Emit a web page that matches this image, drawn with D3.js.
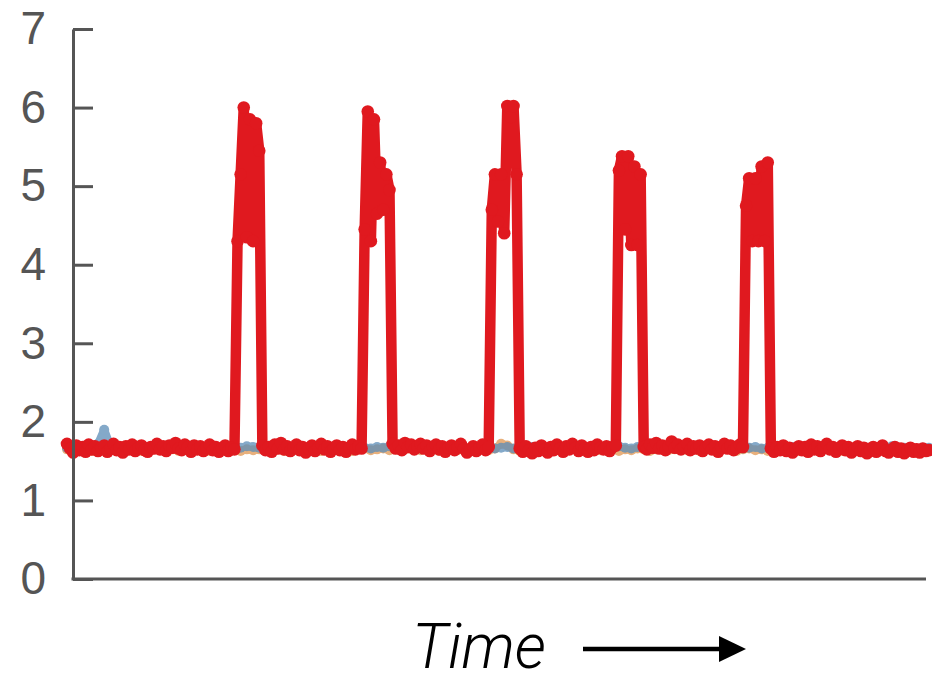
<!DOCTYPE html>
<html>
<head>
<meta charset="utf-8">
<script src="https://cdn.jsdelivr.net/npm/d3@7"></script>
<style>
  html, body { margin: 0; padding: 0; background: #fff; }
  svg { display: block; }
</style>
</head>
<body>
<svg id="chart" width="932" height="678"></svg>
<script>
// Signal level sampled at a fixed interval; index = sample number.
const redValues = [
  // quiet
  1.72,1.66,1.61,1.70,1.64,1.68,1.62,1.71,1.65,1.69,
  1.63,1.67,1.70,1.62,1.66,1.72,1.64,1.68,1.61,1.69,
  1.65,1.71,1.63,1.67,1.70,1.64,1.62,1.68,1.66,1.72,
  1.65,1.69,1.63,1.70,1.67,1.73,1.66,1.64,1.71,1.68,
  1.62,1.70,1.65,1.69,1.63,1.67,1.71,1.64,1.68,1.62,
  1.66,1.70,1.63,1.67,1.65,
  // burst 1
  4.30,5.15,6.00,4.35,5.85,4.30,5.80,5.45,
  // quiet
  1.70,1.64,1.68,1.62,1.71,1.66,1.73,1.65,1.69,1.63,
  1.67,1.71,1.64,1.68,1.61,1.66,1.70,1.63,1.67,1.72,
  1.65,1.69,1.62,1.66,1.70,1.64,1.68,1.62,1.67,1.71,
  1.65,1.69,1.66,
  // burst 2
  4.45,5.95,4.30,5.85,4.65,5.30,4.70,5.15,4.95,
  // quiet
  1.72,1.66,1.70,1.64,1.73,1.68,1.71,1.65,1.69,1.72,
  1.66,1.70,1.63,1.68,1.71,1.65,1.69,1.62,1.67,1.70,
  1.64,1.68,1.72,1.66,1.61,1.65,1.69,1.63,1.67,1.71,
  1.64,1.68,
  // burst 3
  4.70,5.15,4.55,5.15,4.40,6.02,5.88,6.02,5.15,
  // quiet
  1.66,1.62,1.69,1.64,1.60,1.67,1.63,1.70,1.65,1.61,
  1.68,1.64,1.71,1.66,1.62,1.69,1.65,1.72,1.67,1.63,
  1.70,1.66,1.62,1.68,1.64,1.71,1.67,1.65,1.69,1.63,
  1.68,1.70,
  // burst 4
  5.20,5.38,4.45,5.38,4.25,5.25,4.25,5.15,
  // quiet
  1.68,1.65,1.71,1.67,1.73,1.66,1.70,1.64,1.69,1.75,
  1.67,1.71,1.65,1.68,1.72,1.64,1.69,1.66,1.70,1.63,
  1.67,1.71,1.65,1.69,1.62,1.68,1.72,1.66,1.70,1.64,
  1.67,1.71,1.68,
  // burst 5
  4.75,5.10,4.30,5.10,4.30,5.25,4.30,5.30,
  // quiet
  1.66,1.62,1.68,1.64,1.70,1.63,1.67,1.61,1.66,1.69,
  1.64,1.68,1.62,1.71,1.65,1.69,1.63,1.67,1.72,1.65,
  1.68,1.62,1.66,1.70,1.64,1.68,1.61,1.65,1.69,1.63,
  1.67,1.60,1.64,1.68,1.62,1.66,1.70,1.63,1.61,1.65,
  1.68,1.62,1.66,1.60,1.64,1.67,1.62,1.65,1.61,1.66,
  1.63,1.64
];

// Two reference channels, logged every second sample.
const blueValues = [
  1.67,1.68,1.66,1.67,1.69,1.72,1.90,1.69,1.67,1.66,
  1.68,1.67,1.66,1.68,1.67,1.69,1.66,1.67,1.68,1.66,
  1.67,1.69,1.67,1.66,1.68,1.67,1.66,1.68,1.67,1.69,
  1.68,1.67,1.66,1.68,1.67,1.69,1.66,1.67,1.68,1.66,
  1.67,1.68,1.66,1.67,1.69,1.67,1.66,1.68,1.67,1.66,
  1.68,1.67,1.69,1.66,1.67,1.68,1.67,1.66,1.68,1.67,
  1.69,1.67,1.66,1.68,1.67,1.66,1.68,1.69,1.67,1.66,
  1.67,1.68,1.66,1.67,1.69,1.68,1.66,1.67,1.68,1.67,
  1.66,1.68,1.67,1.69,1.66,1.67,1.68,1.66,1.67,1.69,
  1.67,1.66,1.68,1.67,1.66,1.68,1.69,1.67,1.66,1.68,
  1.67,1.69,1.66,1.67,1.68,1.66,1.67,1.69,1.68,1.66,
  1.67,1.68,1.66,1.67,1.69,1.67,1.66,1.68,1.67,1.66,
  1.68,1.67,1.66,1.69,1.67,1.68,1.66,1.67,1.68,1.67,
  1.66,1.68,1.67,1.69,1.66,1.67,1.68,1.66,1.67,1.67
];
const orangeValues = [
  1.65,1.64,1.66,1.65,1.63,1.65,1.66,1.64,1.65,1.66,
  1.64,1.65,1.63,1.66,1.65,1.64,1.66,1.65,1.63,1.65,
  1.66,1.64,1.65,1.63,1.66,1.65,1.64,1.66,1.63,1.65,
  1.64,1.65,1.66,1.64,1.65,1.63,1.65,1.66,1.64,1.65,
  1.66,1.63,1.65,1.64,1.66,1.65,1.63,1.65,1.66,1.64,
  1.65,1.66,1.64,1.65,1.63,1.66,1.65,1.64,1.66,1.65,
  1.63,1.65,1.66,1.64,1.65,1.66,1.63,1.65,1.64,1.66,
  1.72,1.70,1.65,1.63,1.66,1.64,1.65,1.66,1.63,1.65,
  1.64,1.66,1.65,1.63,1.65,1.66,1.64,1.65,1.66,1.63,
  1.65,1.64,1.66,1.65,1.63,1.65,1.66,1.64,1.65,1.66,
  1.64,1.65,1.63,1.66,1.65,1.64,1.66,1.65,1.63,1.65,
  1.66,1.64,1.65,1.63,1.66,1.65,1.64,1.66,1.63,1.65,
  1.64,1.65,1.66,1.64,1.65,1.63,1.65,1.66,1.64,1.65,
  1.66,1.63,1.65,1.64,1.66,1.65,1.63,1.65,1.66,1.64
];
const refStep = 2;               // reference channels: one reading per 2 samples
const yTicks = [0, 1, 2, 3, 4, 5, 6, 7];
const xLabel = "Time";

const svg = d3.select("#chart");

const x = d3.scaleLinear().domain([0, redValues.length - 1]).range([67, 929]);
const y = d3.scaleLinear().domain([0, 7]).range([579, 29]);
const axisLeft = 73, axisRight = 926;

const toPoints = (vals, step) => vals.map((v, i) => ({ t: i * step, v }));
const series = [
  { name: "orange", pts: toPoints(orangeValues, refStep), color: "#e8b07c", opacity: 1,    width: 8,    r: 5 },
  { name: "blue",   pts: toPoints(blueValues, refStep),   color: "#5b8db8", opacity: 0.75, width: 8,    r: 5 },
  { name: "red",    pts: toPoints(redValues, 1),          color: "#e0191f", opacity: 1,    width: 10.5, r: 6.3 }
];

const line = d3.line().x(d => x(d.t)).y(d => y(d.v));

const plot = svg.append("g");
series.forEach(s => {
  const g = plot.append("g").attr("opacity", s.opacity);
  g.append("path")
    .datum(s.pts)
    .attr("d", line)
    .attr("fill", "none")
    .attr("stroke", s.color)
    .attr("stroke-width", s.width)
    .attr("stroke-linejoin", "round")
    .attr("stroke-linecap", "round");
  g.selectAll("circle")
    .data(s.pts)
    .join("circle")
    .attr("cx", d => x(d.t))
    .attr("cy", d => y(d.v))
    .attr("r", s.r)
    .attr("fill", s.color);
});

// Y axis: inward ticks, labels on the left
const yAxis = d3.axisLeft(y)
  .tickValues(yTicks)
  .tickFormat(d3.format("d"))
  .tickSize(-20)
  .tickSizeOuter(0)
  .tickPadding(27);
const gy = svg.append("g").attr("transform", `translate(${axisLeft},0)`).call(yAxis);
gy.select(".domain").attr("stroke", "#555").attr("stroke-width", 3);
gy.selectAll(".tick line").attr("stroke", "#555").attr("stroke-width", 3);
gy.selectAll(".tick text")
  .attr("fill", "#555")
  .style("font-family", "'Liberation Sans', Arial, sans-serif")
  .style("font-size", "46px");

// X axis baseline
svg.append("line")
  .attr("x1", axisLeft - 1.5).attr("x2", axisRight)
  .attr("y1", y(0)).attr("y2", y(0))
  .attr("stroke", "#555").attr("stroke-width", 3);

// Axis title with arrow
svg.append("text")
  .attr("x", 412).attr("y", 668)
  .text(xLabel)
  .style("font-family", "Roboto, 'Liberation Sans', sans-serif")
  .style("font-style", "italic")
  .style("font-weight", 300)
  .style("font-size", "62px")
  .attr("fill", "#000");

svg.append("line")
  .attr("x1", 583).attr("x2", 724)
  .attr("y1", 649).attr("y2", 649)
  .attr("stroke", "#000").attr("stroke-width", 4.5);
svg.append("path")
  .attr("d", "M719,636 L746,649 L719,662 Z")
  .attr("fill", "#000");
</script>
</body>
</html>
